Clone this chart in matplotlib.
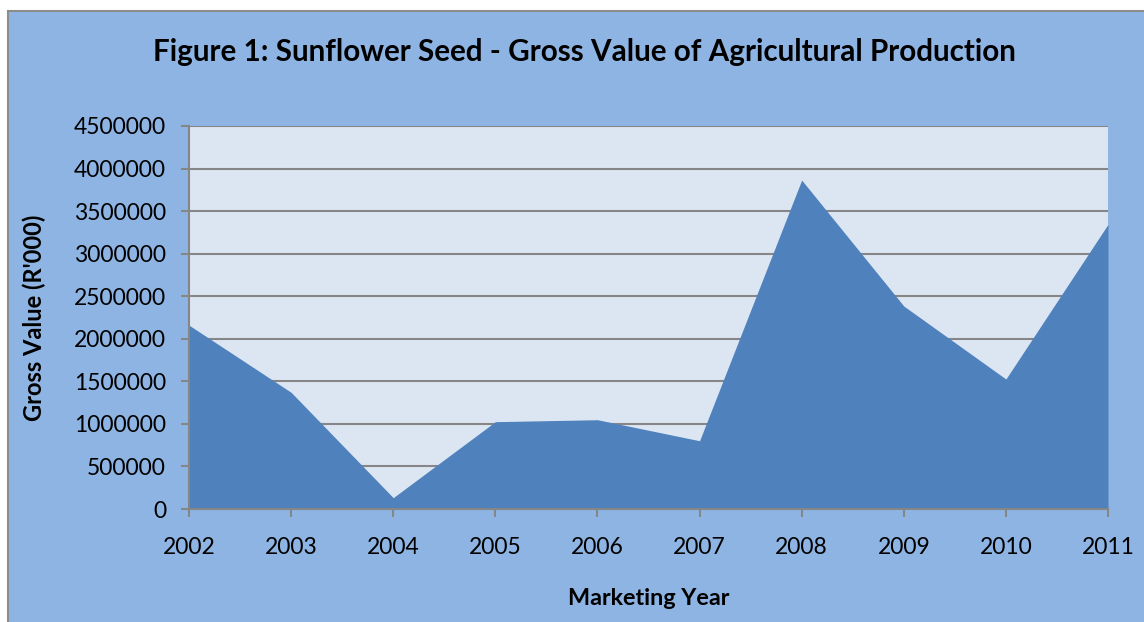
import matplotlib
matplotlib.use("Agg")
import matplotlib.pyplot as plt
from matplotlib.patches import Rectangle

years = ["2002", "2003", "2004", "2005", "2006", "2007", "2008", "2009", "2010", "2011"]
gross_value = [2160000, 1371000, 133000, 1026000, 1049000, 802000, 3865000, 2385000, 1527000, 3345000]
y_ticks = [0, 500000, 1000000, 1500000, 2000000, 2500000, 3000000, 3500000, 4000000, 4500000]

W, H = 1144, 622
fig = plt.figure(figsize=(W / 100, H / 100), dpi=100)
fig.patch.set_facecolor("white")

# outer chart frame (extends past right/bottom edges)
frame = Rectangle((8 / W, -0.1), 1.2, 1.1 - 11 / H, transform=fig.transFigure,
                  facecolor="#8EB4E3", edgecolor="#8C8C8C", linewidth=1.5, zorder=-5)
fig.patches.append(frame)

left, right, top, bottom = 189, 1108, 126, 509
ax = fig.add_axes([left / W, 1 - bottom / H, (right - left) / W, (bottom - top) / H])
ax.set_zorder(2)
ax.set_facecolor("#DCE6F2")

x = list(range(len(years)))
ax.fill_between(x, gross_value, 0, color="#4F81BD", linewidth=0, zorder=3)

ax.set_xlim(0, len(years) - 1)
ax.set_ylim(0, 4500000)
ax.set_yticks(y_ticks)
ax.set_yticklabels([str(v) for v in y_ticks])
ax.set_xticks(x)
ax.set_xticklabels(years)

ax.grid(axis="y", color="#868686", linewidth=1.5, zorder=1)
ax.set_axisbelow(True)
for s in ["top", "right"]:
    ax.spines[s].set_visible(False)
for s in ["left", "bottom"]:
    ax.spines[s].set_color("#868686")
    ax.spines[s].set_linewidth(1.5)
    ax.spines[s].set_zorder(4)

font = "Lato"
ax.tick_params(axis="both", colors="#868686", width=1.5, length=5.5, labelcolor="black",
               labelsize=16.5)
ax.tick_params(axis="y", pad=11)
ax.tick_params(axis="x", pad=14.5)
for lab in ax.get_xticklabels() + ax.get_yticklabels():
    lab.set_fontfamily(font)

ax.set_xlabel("Marketing Year", fontsize=16.8, fontweight="bold", fontfamily=font, labelpad=22)
ax.set_ylabel("Gross Value (R'000)", fontsize=17, fontweight="bold", fontfamily=font, labelpad=20)

fig.text(584 / W, 1 - 52 / H, "Figure 1: Sunflower Seed - Gross Value of Agricultural Production",
         ha="center", va="center", fontsize=21.3, fontweight="bold", fontfamily=font)

fig.savefig("out.png", dpi=100, facecolor=fig.get_facecolor())
